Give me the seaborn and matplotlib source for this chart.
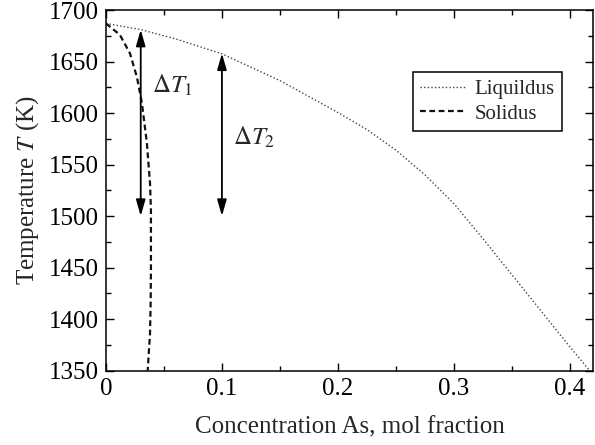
import numpy as np
import pandas as pd
import matplotlib
matplotlib.use("Agg")
import matplotlib.pyplot as plt
import seaborn as sns
from matplotlib.ticker import MultipleLocator

# Data
liq_x = [0.0, 0.03, 0.06, 0.10, 0.15, 0.20, 0.225, 0.25, 0.275, 0.30, 0.325, 0.35, 0.375, 0.40, 0.417]
liq_T = [1687, 1681, 1672, 1657.5, 1631.5, 1600.5, 1584, 1564, 1540, 1512, 1478, 1443, 1408, 1373, 1350]

sol_x = [0.0, 0.012, 0.0207, 0.0267, 0.031, 0.0353, 0.038, 0.0388, 0.0388, 0.0386, 0.038, 0.036]
sol_T = [1687, 1676, 1658, 1635, 1610, 1571, 1532, 1506, 1450, 1418, 1386, 1350]

arrow_x = [0.03, 0.10]
arrow_top = [1681, 1658]
arrow_bottom = [1500, 1500]
arrow_labels = [r"$\Delta T_1$", r"$\Delta T_2$"]
label_pos = [(0.040, 1620), (0.1095, 1569)]

x_ticks = [0, 0.1, 0.2, 0.3, 0.4]
x_ticklabels = ["0", "0.1", "0.2", "0.3", "0.4"]
y_ticks = [1350, 1400, 1450, 1500, 1550, 1600, 1650, 1700]
y_ticklabels = ["1350", "1400", "1450", "1500", "1550", "1600", "1650", "1700"]

sns.set_theme(style="ticks")
plt.rcParams["font.family"] = ["Liberation Serif", "DejaVu Serif"]
plt.rcParams["mathtext.fontset"] = "stix"

fig = plt.figure(figsize=(5.95, 4.45), dpi=100)
ax = fig.add_axes([0.178, 0.167, 0.819, 0.8105])

liq = pd.DataFrame({"x": liq_x, "T": liq_T})
sol = pd.DataFrame({"x": sol_x, "T": sol_T})

sns.lineplot(data=liq, x="x", y="T", sort=False, estimator=None, ax=ax,
             color="#444444", lw=1.0, linestyle=(0, (1, 1.6)), label="Liquildus")
sns.lineplot(data=sol, x="x", y="T", sort=False, estimator=None, ax=ax,
             color="#111111", lw=1.6, linestyle=(0, (2.6, 1.6)), label="Solidus")

for xa, t1, t0 in zip(arrow_x, arrow_top, arrow_bottom):
    ax.annotate("", xy=(xa, t0), xytext=(xa, t1),
                arrowprops=dict(arrowstyle="<|-|>,head_length=0.7,head_width=0.2",
                                lw=1.3, color="black", mutation_scale=14,
                                shrinkA=0, shrinkB=0))
for lab, (lx, ly) in zip(arrow_labels, label_pos):
    ax.text(lx, ly, lab, fontsize=18, ha="left", va="baseline")

ax.set_xlim(0, 0.42)
ax.set_ylim(1350, 1700)
ax.xaxis.set_minor_locator(MultipleLocator(0.05))
ax.yaxis.set_minor_locator(MultipleLocator(25))
ax.set_xticks(x_ticks)
ax.set_xticklabels(x_ticklabels, fontfamily="Liberation Serif")
ax.set_yticks(y_ticks)
ax.set_yticklabels(y_ticklabels, fontfamily="Liberation Serif")

ax.tick_params(which="both", direction="in", top=True, right=True,
               labelsize=18, width=1.0, colors="black")
ax.tick_params(which="major", length=6, pad=5)
ax.tick_params(which="minor", length=3.5)
for s in ax.spines.values():
    s.set_linewidth(1.1)
    s.set_color("black")
    s.set_visible(True)

ax.set_xlabel("Concentration As, mol fraction", fontsize=18, labelpad=12)
ax.set_ylabel("Temperature $T$ (K)", fontsize=18, labelpad=6)

leg = ax.legend(loc="upper right", bbox_to_anchor=(0.936, 0.828), fontsize=15,
                frameon=True, fancybox=False, edgecolor="black", framealpha=1,
                handlelength=2.2, handletextpad=0.4, borderpad=0.35,
                labelspacing=0.25, borderaxespad=0)
leg.get_frame().set_linewidth(1.1)

fig.savefig("out.png", dpi=100)
